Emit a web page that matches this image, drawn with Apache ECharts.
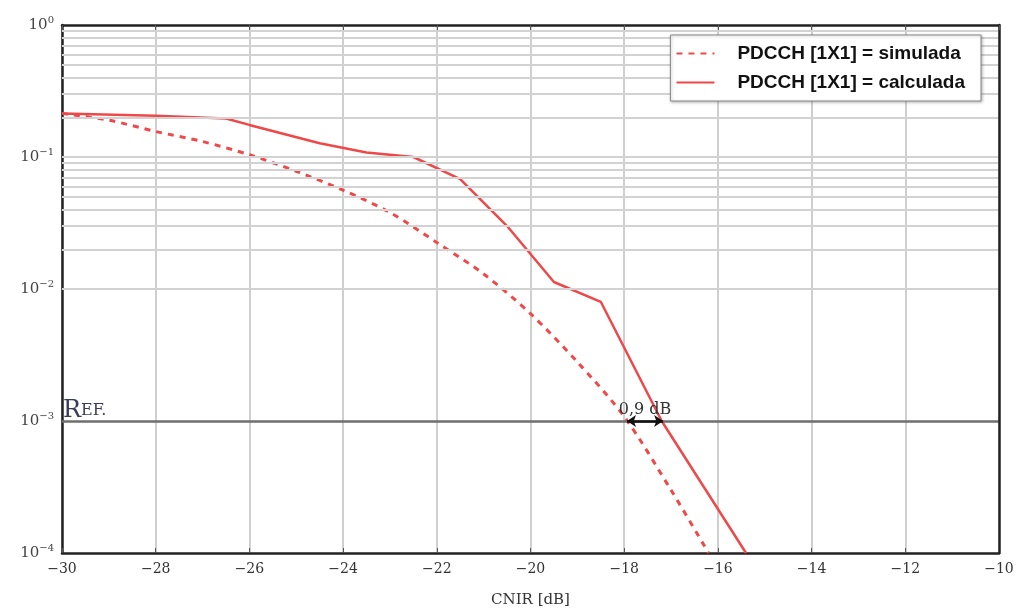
<!DOCTYPE html>
<html>
<head>
<meta charset="utf-8">
<title>PDCCH 1X1</title>
<script src="https://cdn.jsdelivr.net/npm/echarts@6/dist/echarts.min.js"></script>
<style>
    html, body { margin: 0; padding: 0; background: #fff; }
    #main { width: 1019px; height: 615px; }
</style>
</head>
<body>
<div id="main"></div>
<script>
// curva simulada (tracejada)
var simX = [-30, -29, -28, -27, -26, -25, -24, -23, -22, -21, -20, -19, -18, -17, -16.2]
var simY = [0.214, 0.19, 0.156, 0.131, 0.104, 0.078, 0.056, 0.038, 0.0225, 0.013, 0.0065, 0.0028, 0.00108, 0.0003, 0.0001]
// curva calculada (continua)
var calX = [-30, -28, -26.5, -26, -24.5, -23.5, -22.5, -21.5, -20.5, -19.5, -18.5, -17.2, -15.4]
var calY = [0.214, 0.205, 0.196, 0.175, 0.127, 0.108, 0.1, 0.068, 0.03, 0.0113, 0.008, 0.001, 0.0001]
var xTicks = [-30, -28, -26, -24, -22, -20, -18, -16, -14, -12, -10]
var refLevel = 0.001
var gapFrom = -17.94
var gapTo = -17.17
var gapText = '0,9 dB'

var serif = 'DejaVu Serif'

function pairs(xs, ys) {
    var out = []
    for (var i = 0; i < xs.length; i++) {
        out.push([xs[i], ys[i]])
    }
    return out
}

// linhas de grade: decadas e 2..9 x 10^n
var gridLines = []
for (var e = -4; e < 0; e++) {
    for (var m = 1; m <= 9; m++) {
        if (e == -4 && m == 1) continue
        if (m == 1 && Math.pow(10, e) == refLevel) continue
        gridLines.push({ yAxis: m * Math.pow(10, e) })
    }
}
var refLine = [[{ coord: [-30, refLevel] }, { coord: [-10, refLevel] }]]

var frame = { show: true, onZero: false, lineStyle: { color: '#222', width: 2.5 } }

var myChart = echarts.init(document.getElementById('main'))
var option = {
    backgroundColor: '#fff',
    animation: false,
    grid: {
        left: 62,
        right: 20,
        top: 25,
        bottom: 62
    },
    legend: {
        orient: 'vertical',
        right: 38,
        top: 35,
        z: 20,
        data: ['PDCCH [1X1] = simulada', 'PDCCH [1X1] = calculada'],
        backgroundColor: '#fff',
        borderColor: '#888',
        borderWidth: 1,
        shadowColor: 'rgba(0,0,0,0.25)',
        shadowBlur: 3,
        shadowOffsetX: 1,
        shadowOffsetY: 1,
        padding: [9, 16, 9, 5],
        itemGap: 10,
        itemWidth: 38,
        itemHeight: 14,
        itemStyle: { opacity: 0 },
        textStyle: {
            fontFamily: 'Liberation Sans',
            fontWeight: 'bold',
            fontSize: 19,
            color: '#111',
            padding: [0, 0, 0, 18]
        }
    },
    xAxis: [
        {
            type: 'value',
            min: -30,
            max: -10,
            interval: 2,
            name: 'CNIR [dB]',
            nameLocation: 'middle',
            nameGap: 40,
            nameTextStyle: { fontFamily: serif, fontSize: 15, color: '#333' },
            axisLine: frame,
            axisTick: { show: true, inside: true, length: 5, lineStyle: { color: '#555' } },
            axisLabel: {
                margin: 9,
                fontFamily: serif,
                fontSize: 14,
                color: '#333',
                formatter: function (v) {
                    return xTicks.indexOf(v) >= 0 ? String(v).replace('-', '\u2212') : ''
                }
            },
            splitLine: { show: true, lineStyle: { color: '#cfcfcf', width: 2 } }
        },
        {
            // borda superior
            type: 'value',
            position: 'top',
            min: -30,
            max: -10,
            interval: 2,
            z: 5,
            axisLine: frame,
            axisTick: { show: true, inside: true, length: 5, lineStyle: { color: '#555' } },
            axisLabel: { show: false },
            splitLine: { show: false }
        }
    ],
    yAxis: [
        {
            type: 'log',
            logBase: 10,
            min: 0.0001,
            max: 1,
            axisLine: frame,
            axisTick: { show: false },
            axisLabel: {
                margin: 8,
                formatter: function (v) {
                    var p = Math.round(Math.log(v) / Math.LN10)
                    return '{b|10}{s|' + (p < 0 ? '\u2212' + (-p) : p) + '}'
                },
                rich: {
                    b: { fontFamily: serif, fontSize: 15, color: '#444' },
                    s: { fontFamily: serif, fontSize: 10, color: '#444', verticalAlign: 'top', padding: [0, 0, 10, 0] }
                }
            },
            splitLine: { show: false }
        },
        {
            // borda direita
            type: 'log',
            logBase: 10,
            min: 0.0001,
            max: 1,
            position: 'right',
            z: 5,
            axisLine: frame,
            axisTick: { show: false },
            axisLabel: { show: false },
            splitLine: { show: false }
        }
    ],
    series: [
        {
            name: 'grade',
            type: 'line',
            data: [],
            z: 1,
            silent: true,
            markLine: {
                silent: true,
                symbol: ['none', 'none'],
                label: { show: false },
                lineStyle: { color: '#d2d2d2', width: 2, type: 'solid' },
                data: gridLines
            }
        },
        {
            name: 'ref',
            type: 'line',
            data: [],
            z: 2,
            silent: true,
            markLine: {
                silent: true,
                symbol: ['none', 'none'],
                label: { show: false },
                lineStyle: { color: '#6e6e6e', width: 2.5, type: 'solid' },
                data: refLine
            }
        },
        {
            name: 'PDCCH [1X1] = simulada',
            type: 'line',
            data: pairs(simX, simY),
            smooth: 0.3,
            symbol: 'none',
            z: 4,
            color: '#ef4848',
            lineStyle: { color: '#ef4848', width: 3, type: [6, 6] }
        },
        {
            name: 'PDCCH [1X1] = calculada',
            type: 'line',
            data: pairs(calX, calY),
            symbol: 'none',
            z: 4,
            color: '#ef4848',
            lineStyle: { color: '#ef4848', width: 2.5 },
            markLine: {
                silent: true,
                symbol: ['arrow', 'arrow'],
                symbolSize: 9,
                lineStyle: { color: '#111', width: 2.5, type: 'solid' },
                label: {
                    show: true,
                    position: 'middle',
                    distance: 3,
                    formatter: gapText,
                    fontFamily: serif,
                    fontSize: 16,
                    color: '#333'
                },
                data: [
                    [{ coord: [gapFrom, refLevel] }, { coord: [gapTo, refLevel] }]
                ]
            }
        }
    ]
}
myChart.setOption(option)

// rotulo "Ref." sobre a linha de referencia
var refPos = myChart.convertToPixel({ xAxisIndex: 0, yAxisIndex: 0 }, [-30, refLevel])
myChart.setOption({
    graphic: [{
        type: 'text',
        x: refPos[0] + 1,
        y: refPos[1] + 2,
        z: 10,
        style: {
            text: '{big|R}{sm|EF.}',
            verticalAlign: 'bottom',
            rich: {
                big: { fontFamily: serif, fontSize: 24, fill: '#3a3a5a' },
                sm: { fontFamily: serif, fontSize: 16, fill: '#3a3a5a' }
            }
        }
    }]
})
</script>
</body>
</html>
